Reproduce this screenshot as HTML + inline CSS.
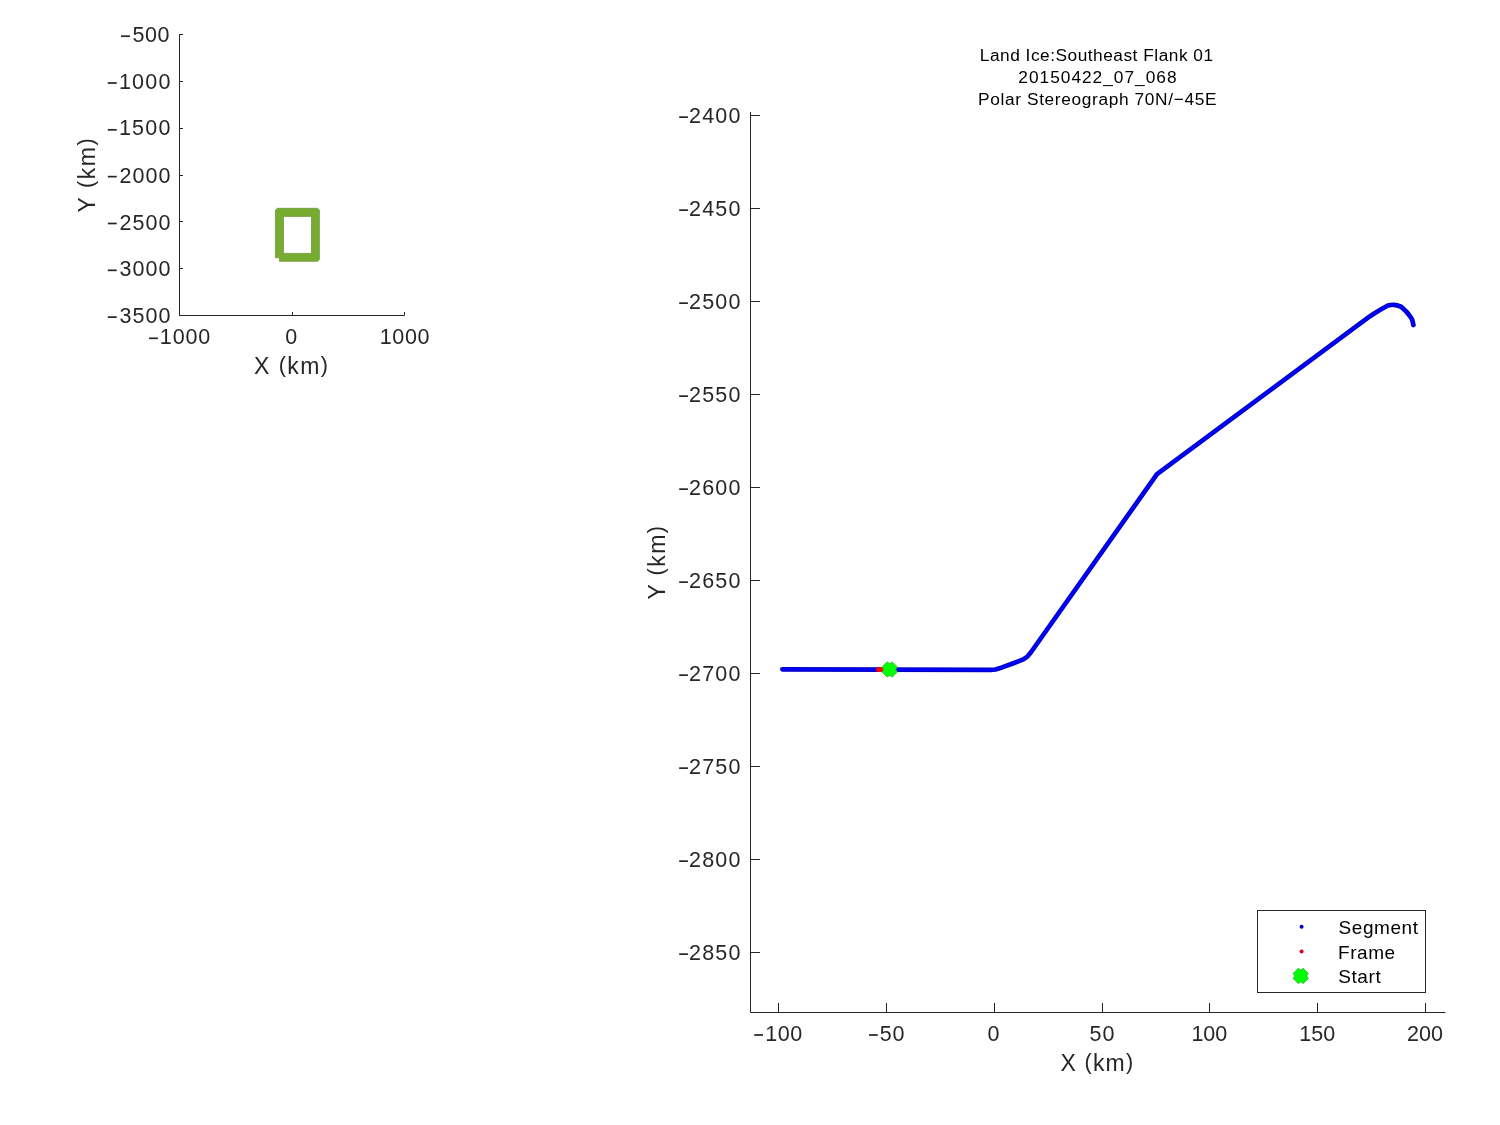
<!DOCTYPE html>
<html><head><meta charset="utf-8"><style>
html,body{margin:0;padding:0;background:#fff;width:1500px;height:1125px;overflow:hidden}
svg{display:block;font-family:"Liberation Sans",sans-serif}
svg{will-change:transform}
</style></head><body>
<svg width="1500" height="1125" viewBox="0 0 1500 1125">
<rect width="1500" height="1125" fill="#fff"/>
<path d="M179.5,34 V315.5 H404.5" fill="none" stroke="#262626" stroke-width="1"/>
<path d="M179.5,34.5 H183 M179.5,81.5 H183 M179.5,128.5 H183 M179.5,175.5 H183 M179.5,221.5 H183 M179.5,268.5 H183 M179.5,315.5 H183 M179.5,315.5 V312 M292.5,315.5 V312 M404.5,315.5 V312 " fill="none" stroke="#262626" stroke-width="1"/>
<path d="M277.3,208.3 H317.6 L319.4,210.1 V259.5 L317.6,261.3 H279.5 V257.8 H275.4 V210.2 Z M283.5,216.4 V253.4 H311.5 V216.4 Z" fill="#77AC30" fill-rule="evenodd" stroke="#6F9A3C" stroke-width="0.8"/>
<rect x="121.00" y="35.35" width="8.90" height="1.7" fill="#262626"/>
<rect x="107.80" y="82.13" width="8.90" height="1.7" fill="#262626"/>
<rect x="107.80" y="128.97" width="8.90" height="1.7" fill="#262626"/>
<rect x="107.80" y="175.80" width="8.90" height="1.7" fill="#262626"/>
<rect x="107.80" y="222.63" width="8.90" height="1.7" fill="#262626"/>
<rect x="107.80" y="269.47" width="8.90" height="1.7" fill="#262626"/>
<rect x="107.80" y="316.30" width="8.90" height="1.7" fill="#262626"/>
<rect x="149.10" y="337.45" width="8.80" height="1.7" fill="#262626"/>
<path d="M750.5,112 V1012.5 H1445.5" fill="none" stroke="#262626" stroke-width="1"/>
<path d="M750.5,115.5 H760 M750.5,208.5 H760 M750.5,301.5 H760 M750.5,394.5 H760 M750.5,487.5 H760 M750.5,580.5 H760 M750.5,673.5 H760 M750.5,766.5 H760 M750.5,859.5 H760 M750.5,952.5 H760 M778.5,1012.5 V1003 M886.5,1012.5 V1003 M994.5,1012.5 V1003 M1102.5,1012.5 V1003 M1209.5,1012.5 V1003 M1317.5,1012.5 V1003 M1425.5,1012.5 V1003 " fill="none" stroke="#262626" stroke-width="1"/>
<rect x="679.20" y="116.30" width="8.70" height="1.7" fill="#262626"/>
<rect x="679.20" y="209.30" width="8.70" height="1.7" fill="#262626"/>
<rect x="679.20" y="302.30" width="8.70" height="1.7" fill="#262626"/>
<rect x="679.20" y="395.30" width="8.70" height="1.7" fill="#262626"/>
<rect x="679.20" y="488.30" width="8.70" height="1.7" fill="#262626"/>
<rect x="679.20" y="581.30" width="8.70" height="1.7" fill="#262626"/>
<rect x="679.20" y="674.30" width="8.70" height="1.7" fill="#262626"/>
<rect x="679.20" y="767.30" width="8.70" height="1.7" fill="#262626"/>
<rect x="679.20" y="860.30" width="8.70" height="1.7" fill="#262626"/>
<rect x="679.20" y="953.30" width="8.70" height="1.7" fill="#262626"/>
<rect x="754.20" y="1034.15" width="8.80" height="1.7" fill="#262626"/>
<rect x="869.00" y="1034.15" width="8.80" height="1.7" fill="#262626"/>
<path d="M782.4,669.3 L990.5,669.9 L995.5,669.5 L1002,667.4 L1012.7,663.5 L1023.3,659.4 L1027.4,656.6 L1031.5,651.5 L1157.0,474.1 L1368.7,317.2 C1370.80,315.72 1372.40,314.62 1375.00,313.00 C1377.60,311.38 1381.97,308.78 1384.30,307.50 C1386.63,306.22 1387.43,305.75 1389.00,305.30 C1390.57,304.85 1391.88,304.65 1393.70,304.80 C1395.52,304.95 1398.35,305.58 1399.90,306.20 C1401.45,306.82 1401.97,307.63 1403.00,308.50 C1404.03,309.37 1405.07,310.28 1406.10,311.40 C1407.13,312.52 1408.22,313.87 1409.20,315.20 C1410.18,316.53 1411.30,317.77 1412.00,319.40 C1412.70,321.03 1413.07,323.57 1413.40,325.00" fill="none" stroke="#0000C0" stroke-width="4.7" stroke-linejoin="round" stroke-linecap="round"/>
<path d="M782.4,669.3 L990.5,669.9 L995.5,669.5 L1002,667.4 L1012.7,663.5 L1023.3,659.4 L1027.4,656.6 L1031.5,651.5 L1157.0,474.1 L1368.7,317.2 C1370.80,315.72 1372.40,314.62 1375.00,313.00 C1377.60,311.38 1381.97,308.78 1384.30,307.50 C1386.63,306.22 1387.43,305.75 1389.00,305.30 C1390.57,304.85 1391.88,304.65 1393.70,304.80 C1395.52,304.95 1398.35,305.58 1399.90,306.20 C1401.45,306.82 1401.97,307.63 1403.00,308.50 C1404.03,309.37 1405.07,310.28 1406.10,311.40 C1407.13,312.52 1408.22,313.87 1409.20,315.20 C1410.18,316.53 1411.30,317.77 1412.00,319.40 C1412.70,321.03 1413.07,323.57 1413.40,325.00" fill="none" stroke="#0000FF" stroke-width="2.6" stroke-linejoin="round" stroke-linecap="round"/>
<path d="M878.5,669.5 H884" stroke="#FF0000" stroke-width="5" stroke-linecap="round"/>
<path d="M887.15,661.90 L889.70,663.50 L892.25,661.90 L897.30,666.95 L895.70,669.50 L897.30,672.05 L892.25,677.10 L889.70,675.50 L887.15,677.10 L882.10,672.05 L883.70,669.50 L882.10,666.95Z" fill="#00FF00" stroke="#30B830" stroke-width="0.8" stroke-linejoin="round"/>
<rect x="1257.5" y="910.5" width="168" height="82" fill="#fff" stroke="#262626" stroke-width="1"/>
<circle cx="1301.6" cy="926.8" r="2.0" fill="#0000B8"/>
<circle cx="1301.6" cy="951.5" r="2.0" fill="#D8001A"/>
<path d="M1298.20,968.35 L1300.75,969.95 L1303.30,968.35 L1308.35,973.40 L1306.75,975.95 L1308.35,978.50 L1303.30,983.55 L1300.75,981.95 L1298.20,983.55 L1293.15,978.50 L1294.75,975.95 L1293.15,973.40Z" fill="#00FF00" stroke="#30B830" stroke-width="0.8" stroke-linejoin="round"/>
<text id="sy0" x="169.49" y="42.40" font-size="21.5" fill="#262626" text-anchor="end" textLength="37.11" lengthAdjust="spacing">500</text>
<text id="sy1" x="170.38" y="88.97" font-size="21.5" fill="#262626" text-anchor="end" textLength="51.41" lengthAdjust="spacing">1000</text>
<text id="sy2" x="170.38" y="135.33" font-size="21.5" fill="#262626" text-anchor="end" textLength="51.41" lengthAdjust="spacing">1500</text>
<text id="sy3" x="170.35" y="182.78" font-size="21.5" fill="#262626" text-anchor="end" textLength="50.75" lengthAdjust="spacing">2000</text>
<text id="sy4" x="170.35" y="229.67" font-size="21.5" fill="#262626" text-anchor="end" textLength="50.75" lengthAdjust="spacing">2500</text>
<text id="sy5" x="170.35" y="276.02" font-size="21.5" fill="#262626" text-anchor="end" textLength="50.75" lengthAdjust="spacing">3000</text>
<text id="sy6" x="170.35" y="323.09" font-size="21.5" fill="#262626" text-anchor="end" textLength="50.75" lengthAdjust="spacing">3500</text>
<text id="sx0" x="185.07" y="344.00" font-size="21.5" fill="#262626" text-anchor="middle" textLength="50.50" lengthAdjust="spacing">1000</text>
<text id="sx1" x="291.27" y="344.45" font-size="21.5" fill="#262626" text-anchor="middle" textLength="15.38" lengthAdjust="spacing">0</text>
<text id="sx2" x="404.60" y="344.20" font-size="21.5" fill="#262626" text-anchor="middle" textLength="49.53" lengthAdjust="spacing">1000</text>
<text id="sxl" x="291.03" y="373.70" font-size="23" fill="#262626" text-anchor="middle" textLength="73.96" lengthAdjust="spacing">X <tspan font-size="21.6" dy="-1.55">(</tspan><tspan dy="1.55">km</tspan><tspan font-size="21.6" dy="-1.55">)</tspan></text>
<text id="syl" transform="translate(94.90,175.44) rotate(-90)" font-size="23" fill="#262626" text-anchor="middle" textLength="74.10" lengthAdjust="spacing">Y <tspan font-size="21.6" dy="-1.55">(</tspan><tspan dy="1.55">km</tspan><tspan font-size="21.6" dy="-1.55">)</tspan></text>
<text id="ly0" x="740.44" y="123.10" font-size="21.5" fill="#262626" text-anchor="end" textLength="51.46" lengthAdjust="spacing">2400</text>
<text id="ly1" x="740.44" y="216.10" font-size="21.5" fill="#262626" text-anchor="end" textLength="51.46" lengthAdjust="spacing">2450</text>
<text id="ly2" x="740.44" y="309.10" font-size="21.5" fill="#262626" text-anchor="end" textLength="51.46" lengthAdjust="spacing">2500</text>
<text id="ly3" x="740.44" y="402.10" font-size="21.5" fill="#262626" text-anchor="end" textLength="51.46" lengthAdjust="spacing">2550</text>
<text id="ly4" x="740.44" y="494.93" font-size="21.5" fill="#262626" text-anchor="end" textLength="51.46" lengthAdjust="spacing">2600</text>
<text id="ly5" x="740.44" y="588.10" font-size="21.5" fill="#262626" text-anchor="end" textLength="51.46" lengthAdjust="spacing">2650</text>
<text id="ly6" x="740.44" y="681.10" font-size="21.5" fill="#262626" text-anchor="end" textLength="51.46" lengthAdjust="spacing">2700</text>
<text id="ly7" x="740.44" y="774.10" font-size="21.5" fill="#262626" text-anchor="end" textLength="51.46" lengthAdjust="spacing">2750</text>
<text id="ly8" x="740.44" y="866.94" font-size="21.5" fill="#262626" text-anchor="end" textLength="51.46" lengthAdjust="spacing">2800</text>
<text id="ly9" x="740.44" y="960.10" font-size="21.5" fill="#262626" text-anchor="end" textLength="51.46" lengthAdjust="spacing">2850</text>
<text id="lx0" x="783.79" y="1040.80" font-size="21.5" fill="#262626" text-anchor="middle" textLength="37.06" lengthAdjust="spacing">100</text>
<text id="lx1" x="892.09" y="1041.36" font-size="21.5" fill="#262626" text-anchor="middle" textLength="24.51" lengthAdjust="spacing">50</text>
<text id="lx2" x="993.45" y="1041.01" font-size="21.5" fill="#262626" text-anchor="middle" textLength="14.35" lengthAdjust="spacing">0</text>
<text id="lx3" x="1101.97" y="1041.23" font-size="21.5" fill="#262626" text-anchor="middle" textLength="25.04" lengthAdjust="spacing">50</text>
<text id="lx4" x="1209.33" y="1040.80" font-size="21.5" fill="#262626" text-anchor="middle">100</text>
<text id="lx5" x="1317.17" y="1040.80" font-size="21.5" fill="#262626" text-anchor="middle">150</text>
<text id="lx6" x="1425.00" y="1040.80" font-size="21.5" fill="#262626" text-anchor="middle">200</text>
<text id="lxl" x="1096.78" y="1070.80" font-size="23" fill="#262626" text-anchor="middle" textLength="72.74" lengthAdjust="spacing">X <tspan font-size="21.6" dy="-1.55">(</tspan><tspan dy="1.55">km</tspan><tspan font-size="21.6" dy="-1.55">)</tspan></text>
<text id="lyl" transform="translate(664.90,562.80) rotate(-90)" font-size="23" fill="#262626" text-anchor="middle" textLength="73.56" lengthAdjust="spacing">Y <tspan font-size="21.6" dy="-1.55">(</tspan><tspan dy="1.55">km</tspan><tspan font-size="21.6" dy="-1.55">)</tspan></text>
<text id="t1" x="1096.44" y="60.60" font-size="17.3" fill="#000" text-anchor="middle" textLength="233.31" lengthAdjust="spacing">Land Ice:Southeast Flank 01</text>
<text id="t2" x="1097.41" y="82.54" font-size="17.3" fill="#000" text-anchor="middle" textLength="158.18" lengthAdjust="spacing">20150422_07_068</text>
<text id="t3" x="1097.22" y="105.00" font-size="17.3" fill="#000" text-anchor="middle" textLength="238.42" lengthAdjust="spacing">Polar Stereograph 70N/−45E</text>
<text id="lg1" x="1338.61" y="933.50" font-size="19" fill="#000" text-anchor="start" textLength="79.32" lengthAdjust="spacing">Segment</text>
<text id="lg2" x="1338.03" y="958.60" font-size="19" fill="#000" text-anchor="start" textLength="57.14" lengthAdjust="spacing">Frame</text>
<text id="lg3" x="1338.30" y="982.70" font-size="19" fill="#000" text-anchor="start" textLength="42.36" lengthAdjust="spacing">Start</text>
</svg></body></html>
